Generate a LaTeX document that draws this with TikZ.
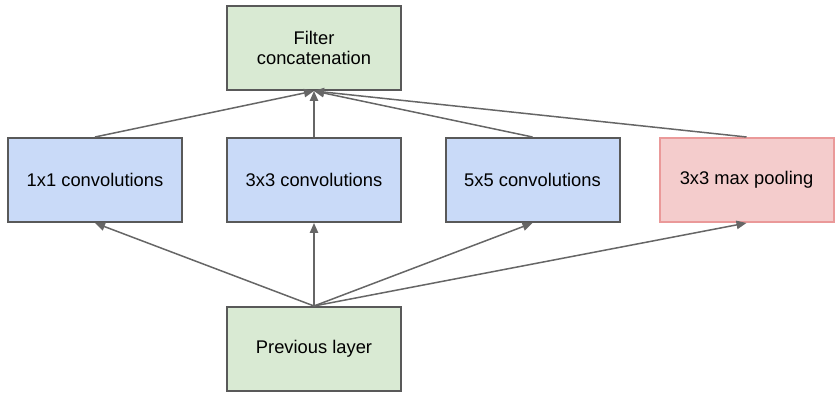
\documentclass[tikz,border=0pt]{standalone}
\usepackage{fontspec}
\setmainfont{Liberation Sans}
\usepackage{xcolor}
\usepackage{tikz}
\usetikzlibrary{arrows.meta,positioning}
\definecolor{layergreen}{HTML}{D9EAD3}
\definecolor{convblue}{HTML}{C9DAF8}
\definecolor{poolpink}{HTML}{F4CCCC}
\definecolor{poolred}{HTML}{EA9999}
\definecolor{boxgray}{HTML}{595959}
\definecolor{wire}{HTML}{666666}
\tikzset{
    every picture/.style={line join=miter},
    layerbox/.style={draw=boxgray,line width=1.2pt,
      minimum width=104.4pt,minimum height=50.4pt,inner sep=2pt,
      font=\fontsize{11}{12}\selectfont,align=center},
    greenbox/.style={layerbox,fill=layergreen},
    bluebox/.style={layerbox,fill=convblue},
    pinkbox/.style={layerbox,fill=poolpink,draw=poolred},
    flowarrow/.style={-{Triangle[length=6pt,width=5pt]},draw=wire,
      line width=0.9pt}
}
\begin{document}
\begin{tikzpicture}[x=0.6pt,y=-0.6pt]
  \useasboundingbox (0,0) rectangle (840,401);
  % top and bottom layers
  \node[greenbox] (concat) at (314,48) {Filter\\concatenation};
  \node[greenbox] (prev) at (314,349) {Previous layer};
  % parallel branches
  \node[bluebox] (conva) at (95,180) {1x1 convolutions};
  \node[bluebox] (convb) at (314,180) {3x3 convolutions};
  \node[bluebox] (convc) at (532.5,180) {5x5 convolutions};
  \node[pinkbox] (pool) at (746.5,180) {3x3 max pooling};
  \foreach \b in {conva,convb,convc,pool}{
    \draw[flowarrow] (prev.north) -- (\b.south);
    \draw[flowarrow] (\b.north) -- (concat.south);
  }
\end{tikzpicture}
\end{document}
